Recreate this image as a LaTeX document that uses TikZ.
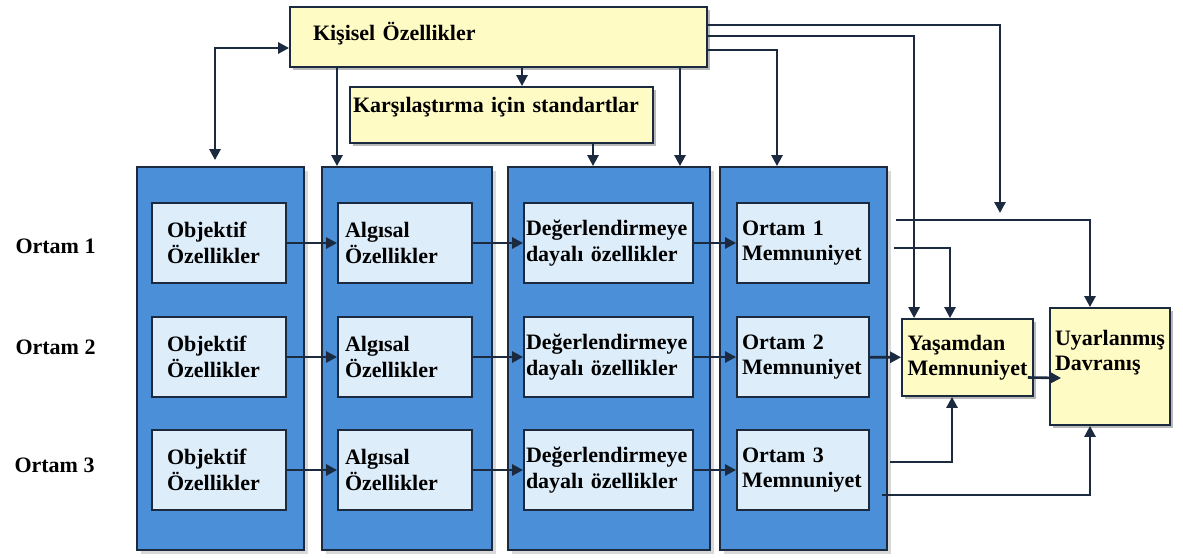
\documentclass[tikz,border=0pt]{standalone}
\usepackage{fontspec}
\setmainfont{Liberation Serif}
\usetikzlibrary{arrows.meta,shadows,calc}

\definecolor{stage-blue}{HTML}{4A8FD8}
\definecolor{attr-blue}{HTML}{DDEDFA}
\definecolor{note-yellow}{HTML}{FFFBC4}
\definecolor{edge-navy}{HTML}{1B2A3E}

\tikzstyle{stage-col}=[draw=edge-navy, line width=1.8pt, fill=stage-blue, minimum width=167pt, minimum height=383pt,
      drop shadow={shadow xshift=4pt, shadow yshift=-4pt, fill=black!30}]
\tikzstyle{attr-box}=[draw=edge-navy, line width=1.8pt, fill=attr-blue, minimum height=80pt, align=left, inner ysep=0pt]
\tikzstyle{note-box}=[draw=edge-navy, line width=1.8pt, fill=note-yellow, align=left,
      drop shadow={shadow xshift=3pt, shadow yshift=-3pt, fill=black!55}]
\tikzstyle{conn-line}=[draw=edge-navy, line width=2.6pt, -{Triangle[length=11pt,width=11pt]}]
\tikzstyle{both-line}=[conn-line, {Triangle[length=11pt,width=11pt]}-{Triangle[length=11pt,width=11pt]}]

\begin{document}
\begin{tikzpicture}[x=1pt, y=-1pt, font=\fontsize{22}{25.5}\selectfont\bfseries]
      \useasboundingbox (0,0) rectangle (1183,557);

      \node (col1) at (220.5, 358.5) [stage-col] {};
      \node (col2) at (407, 358.5) [stage-col, minimum width=170pt] {};
      \node (col3) at (609, 358.5) [stage-col, minimum width=202pt] {};
      \node (col4) at (803.5, 358.5) [stage-col] {};

      \node (ortam1) at (12, 253) [anchor=base west] {Ortam 1};
      \node (ortam2) at (12, 354) [anchor=base west] {Ortam 2};
      \node (ortam3) at (11, 472) [anchor=base west] {Ortam 3};

      \node (obj1) at (219, 243) [attr-box, text width=104pt, inner xsep=15pt] {Objektif\\Özellikler};
      \node (obj2) at (219, 357) [attr-box, text width=104pt, inner xsep=15pt] {Objektif\\Özellikler};
      \node (obj3) at (219, 470) [attr-box, text width=104pt, inner xsep=15pt] {Objektif\\Özellikler};

      \node (alg1) at (405, 243) [attr-box, text width=120pt, inner xsep=7pt] {Algısal\\Özellikler};
      \node (alg2) at (405, 357) [attr-box, text width=120pt, inner xsep=7pt] {Algısal\\Özellikler};
      \node (alg3) at (405, 470) [attr-box, text width=120pt, inner xsep=7pt] {Algısal\\Özellikler};

      \node (deg1) at (608.5, 243) [attr-box, text width=165pt, inner xsep=2pt] {Değerlendirmeye\\dayalı özellikler};
      \node (deg2) at (608.5, 357) [attr-box, text width=165pt, inner xsep=2pt] {Değerlendirmeye\\dayalı özellikler};
      \node (deg3) at (608.5, 470) [attr-box, text width=165pt, inner xsep=2pt] {Değerlendirmeye\\dayalı özellikler};

      \node (mem1) at (803, 243) [attr-box, text width=122pt, inner xsep=5pt] {Ortam 1\\Memnuniyet};
      \node (mem2) at (803, 357) [attr-box, text width=122pt, inner xsep=5pt] {Ortam 2\\Memnuniyet};
      \node (mem3) at (803, 470) [attr-box, text width=122pt, inner xsep=5pt] {Ortam 3\\Memnuniyet};

      \node (kisisel) at (498.5, 37) [note-box, text width=371pt, inner xsep=23pt, inner ysep=0pt,
            text height=33pt, text depth=27pt] {Kişisel Özellikler};
      \node (kars) at (501.5, 115) [note-box, text width=297pt, inner xsep=3pt, inner ysep=0pt,
            text height=25pt, text depth=31pt] {Karşılaştırma için standartlar};
      \node (yasam) at (967.5, 357.5) [note-box, minimum width=131pt, minimum height=77pt, inner xsep=5pt] {Yaşamdan\\Memnuniyet};
      \node (uyar) at (1110, 366.5) [note-box, text width=110pt, inner xsep=5pt, inner ysep=0pt,
            text height=37pt, text depth=80pt] {Uyarlanmış\\Davranış};

      \coordinate (drop-obj) at ($(col1.north)+(-5.5,-6)$);
      \coordinate (drop-alg) at ($(col2.north)+(-70,0)$);
      \coordinate (drop-kars) at ($(kars.north)+(20.5,0)$);
      \coordinate (drop-deg) at ($(col3.north)+(-16,0)$);
      \coordinate (drop-deg2) at ($(col3.north)+(71,0)$);
      \coordinate (drop-mem) at ($(col4.north)+(-26.5,0)$);
      \coordinate (merge) at (1000, 213);

      \foreach \r in {1,2,3} {
            \draw[conn-line] (obj\r) -- (alg\r);
            \draw[conn-line] (alg\r) -- (deg\r);
            \draw[conn-line] (deg\r) -- (mem\r);
      }

      \draw[both-line] (drop-obj) |- ($(kisisel.west)+(0,11)$);
      \draw[conn-line] (kisisel.south -| drop-alg) -- (drop-alg);
      \draw[conn-line] (kisisel.south -| drop-kars) -- (drop-kars);
      \draw[conn-line] (kars.south -| drop-deg) -- (drop-deg);
      \draw[conn-line] (kisisel.south -| drop-deg2) -- (drop-deg2);
      \draw[conn-line] ($(kisisel.east)+(0,-12)$) -| (merge);
      \draw[conn-line] ($(kisisel.east)+(0,-1)$) -| ($(yasam.north west)+(13,0)$);
      \draw[conn-line] ($(kisisel.east)+(0,13)$) -| (drop-mem);

      \draw[conn-line] ($(col4.east)+(8,-138.5)$) -| ($(uyar.north)+(-20,0)$);
      \draw[conn-line] ($(col4.east)+(6,-110.5)$) -| ($(yasam.north)+(-17.5,0)$);
      \draw[conn-line] (mem2) -- (yasam);
      \draw[conn-line] ($(col4.east)+(2,103.5)$) -| ($(yasam.south)+(-15.5,0)$);
      \draw[conn-line] ($(col4.east)+(-6,136.5)$) -| ($(uyar.south)+(-20,0)$);
      \draw[conn-line] ($(yasam.east)+(-6,20)$) -- ($(uyar.west)+(12,11.5)$);
\end{tikzpicture}
\end{document}
